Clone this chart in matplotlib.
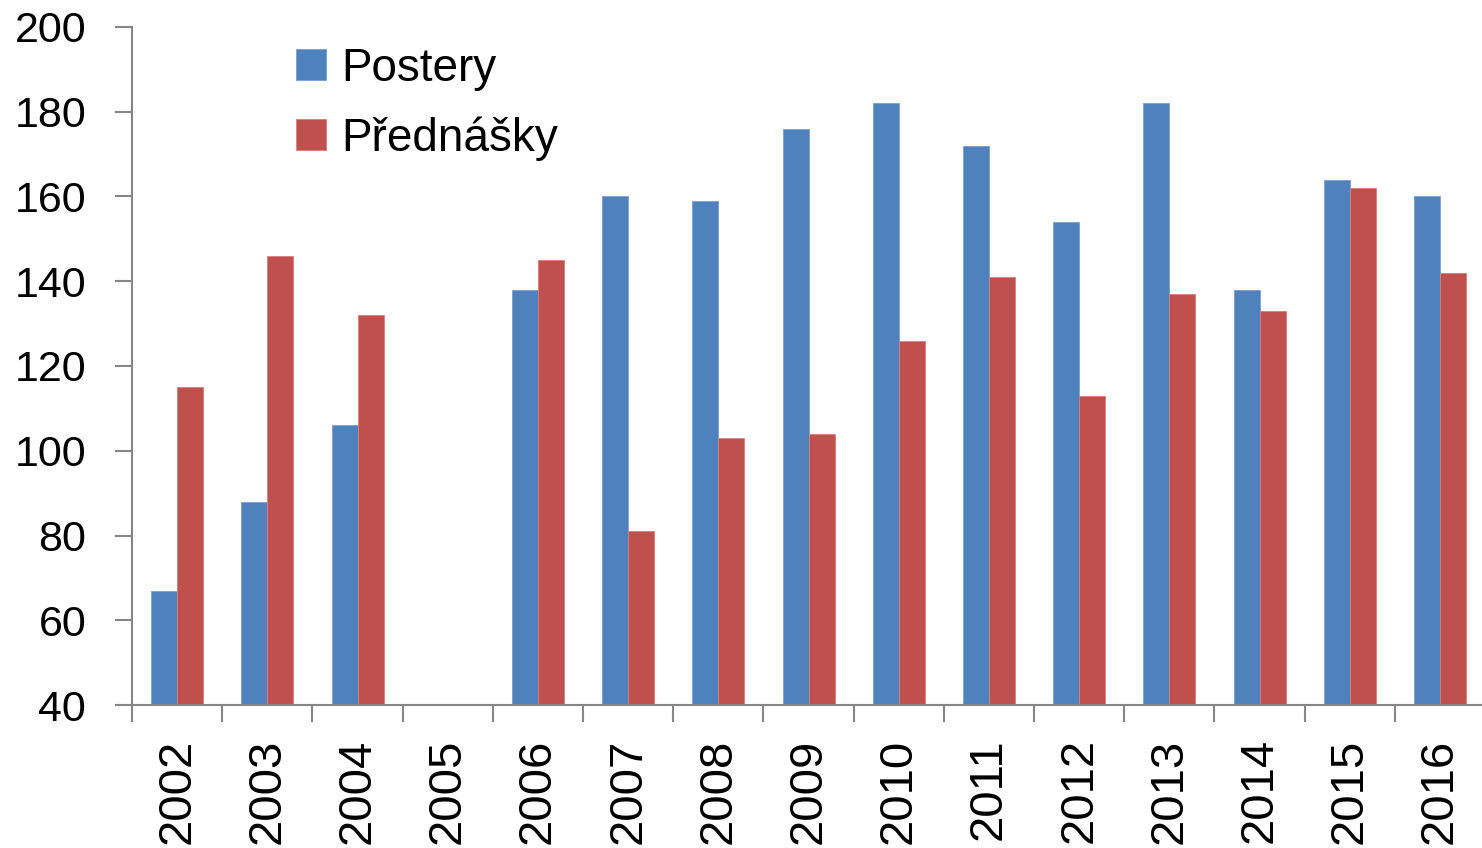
import numpy as np
import matplotlib
matplotlib.use("Agg")
from matplotlib import pyplot as plt

years = ["2002", "2003", "2004", "2005", "2006", "2007", "2008", "2009",
         "2010", "2011", "2012", "2013", "2014", "2015", "2016"]
postery = [67, 88, 106, np.nan, 138, 160, 159, 176, 182, 172, 154, 182, 138, 164, 160]
prednasky = [115, 146, 132, np.nan, 145, 81, 103, 104, 126, 141, 113, 137, 133, 162, 142]

plt.rcParams['font.family'] = ['Liberation Sans', 'DejaVu Sans']

fig = plt.figure(figsize=(14.82, 8.48), dpi=100)
ax = fig.add_axes([0.0891, 0.1686, 0.9130, 0.7996])

x = np.arange(len(years))
w = 0.288
grey = '#868686'
ax.bar(x - w / 2, postery, w, bottom=0, color='#4F81BD', edgecolor='#7A9FD0',
       linewidth=0.6, label='Postery')
ax.bar(x + w / 2, prednasky, w, bottom=0, color='#C0504D', edgecolor='#D8807D',
       linewidth=0.6, label='Přednášky')

ax.set_ylim(40, 200)
ax.set_xlim(-0.5, len(years) - 0.5)
ax.set_yticks(range(40, 201, 20))
ax.set_xticks(x)
ax.set_xticklabels(years, rotation=90, va='top')
ax.set_xticks(np.arange(len(years) + 1) - 0.5, minor=True)
ax.tick_params(axis='x', which='major', length=0, pad=24, labelsize=34)
ax.tick_params(axis='x', which='minor', length=12, width=1.5, color=grey)
ax.tick_params(axis='y', length=12, width=1.5, color=grey, labelsize=31, pad=21)

for s in ['top', 'right']:
    ax.spines[s].set_visible(False)
for s in ['left', 'bottom']:
    ax.spines[s].set_color(grey)
    ax.spines[s].set_linewidth(1.5)

ax.legend(loc='upper left', bbox_to_anchor=(0.091, 1.032), frameon=False,
          fontsize=33, handlelength=0.65, handleheight=0.65, handletextpad=0.33,
          labelspacing=0.56)

fig.savefig('out.png', dpi=100)
